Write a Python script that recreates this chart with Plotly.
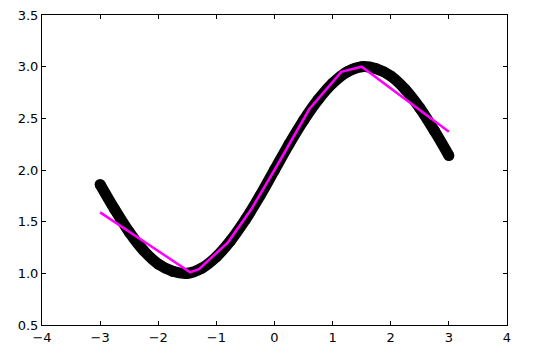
import plotly.graph_objects as go

# black curve
curve_x = [-3.0, -2.75, -2.5, -2.25, -2.0, -1.75, -1.5, -1.25, -1.0, -0.75, -0.5, -0.25,
           0.0, 0.25, 0.5, 0.75, 1.0, 1.25, 1.5, 1.75, 2.0, 2.25, 2.5, 2.75, 3.0]
curve_y = [1.86, 1.62, 1.40, 1.22, 1.09, 1.02, 1.00, 1.05, 1.16, 1.32, 1.52, 1.75,
           2.00, 2.25, 2.48, 2.68, 2.84, 2.95, 3.00, 2.98, 2.91, 2.78, 2.60, 2.38, 2.14]

# magenta piecewise fit
fit_x = [-3.0, -1.45, -1.3, -0.8, -0.4, 0.0, 0.6, 1.15, 1.5, 3.0]
fit_y = [1.59, 1.01, 1.04, 1.30, 1.62, 2.00, 2.59, 2.95, 3.00, 2.37]

x_ticks = [-4, -3, -2, -1, 0, 1, 2, 3, 4]
y_ticks = [0.5, 1.0, 1.5, 2.0, 2.5, 3.0, 3.5]

fig = go.Figure()
fig.add_trace(go.Scatter(x=curve_x, y=curve_y, mode="lines+markers",
                         line=dict(color="black", width=11, shape="spline"),
                         marker=dict(color="black", size=11)))
fig.add_trace(go.Scatter(x=fit_x, y=fit_y, mode="lines",
                         line=dict(color="#FF00FF", width=2.5)))

axis_common = dict(showline=True, linecolor="black", linewidth=1, mirror="ticks",
                   ticks="inside", ticklen=4, tickcolor="black", showgrid=False,
                   zeroline=False, automargin=False,
                   tickfont=dict(family="DejaVu Sans", size=13, color="black"))
fig.update_xaxes(range=[-4, 4], tickvals=x_ticks,
                 ticktext=[str(v).replace("-", "\u2212") for v in x_ticks], **axis_common)
fig.update_yaxes(range=[0.5, 3.5], tickvals=y_ticks,
                 ticktext=[f"{v:.1f}" for v in y_ticks], **axis_common)
fig.update_layout(width=533, height=361, margin=dict(l=42, r=26, t=15, b=36),
                  plot_bgcolor="white", paper_bgcolor="white", showlegend=False)
fig.write_html("out.html")
